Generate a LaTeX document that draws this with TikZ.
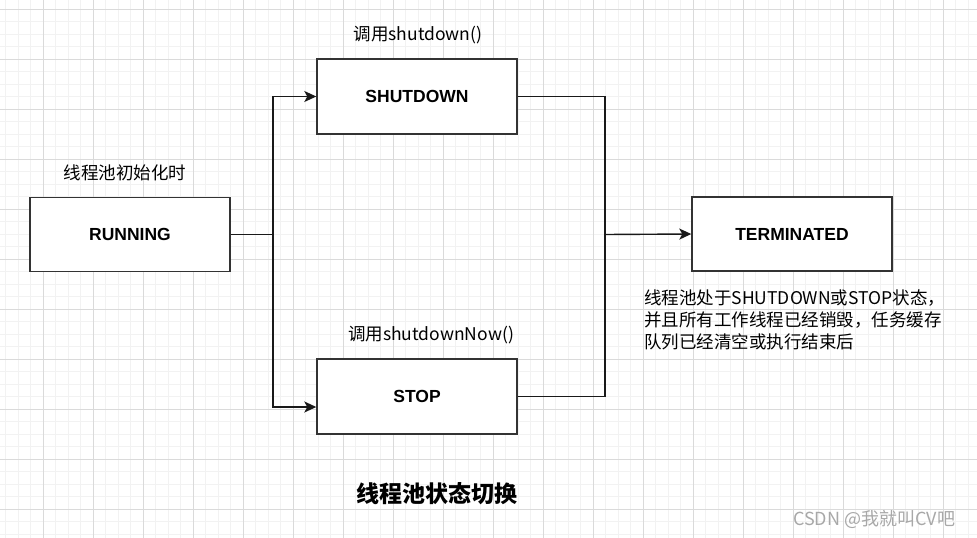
\documentclass[tikz,border=0pt]{standalone}
\usepackage{fontspec}
\setmainfont{Liberation Sans}
\newfontfamily\cjk{Noto Sans CJK SC}
\usetikzlibrary{positioning, arrows.meta}

\definecolor{gridminor}{HTML}{F2F2F2}
\definecolor{gridmajor}{HTML}{DADADA}
\definecolor{markgray}{HTML}{A8A8A8}

\begin{document}
\begin{tikzpicture}[
    x=1pt, y=-1pt,
    state/.style={rectangle, draw=black!80, line width=1.4pt, fill=white, minimum width=200pt, minimum height=74pt, inner sep=0pt, align=center, font=\fontsize{17.5}{21}\selectfont\bfseries},
    note/.style={inner sep=0pt, align=left, font=\cjk\fontsize{17.5}{22}\selectfont},
    line/.style={line width=1.4pt, black!90},
    arrow/.style={line, -{Stealth[length=12pt, width=11pt, inset=3pt]}}
  ]
    \useasboundingbox (0,0) rectangle (977,538);
    % background grid
    \fill[white] (0,0) rectangle (977,538);
    \begin{scope}
      \clip (0,0) rectangle (977,538);
      \foreach \gx in {-7, 5.5, ..., 980} \draw[gridminor, line width=0.8pt] (\gx,0) -- (\gx,538);
      \foreach \gy in {-3.5, 9, ..., 540} \draw[gridminor, line width=0.8pt] (0,\gy) -- (977,\gy);
      \foreach \gx in {43, 93, ..., 980} \draw[gridmajor, line width=0.8pt] (\gx,0) -- (\gx,538);
      \foreach \gy in {9, 59, ..., 540} \draw[gridmajor, line width=0.8pt] (0,\gy) -- (977,\gy);
    \end{scope}

    \node[state] (running) at (130,234.5) {RUNNING};
    \node[state, minimum height=75pt] (shutdown) at (417,96.5) {SHUTDOWN};
    \node[state, minimum height=75pt] (stop) at (417,396.5) {STOP};
    \node[state] (terminated) at (792,234) {TERMINATED};

    \coordinate (fork) at (273,234.5);
    \coordinate (join) at (605,234.5);

    \draw[line] (running.east) -- (fork);
    \draw[arrow] (fork) |- (shutdown.west);
    \draw[arrow] (fork) |- ([yshift=-10.5pt]stop.west);
    \draw[line] (shutdown.east) -| (join);
    \draw[line] (stop.east) -| (join);
    \draw[arrow] (join) -- (terminated.west);

    \node[note] (initnote) at (125,173) {线程池初始化时};
    \node[note] (shutnote) at (418,35) {调用shutdown()};
    \node[note] (stopnote) at (431,335) {调用shutdownNow()};
    \node[note, anchor=north west] (termnote) at (644,290) {线程池处于SHUTDOWN或STOP状态，\\并且所有工作线程已经销毁，任务缓存\\队列已经清空或执行结束后};
    \node[note, font=\cjk\bfseries\fontsize{23}{27}\selectfont] (title) at (437,494) {线程池状态切换};
    \node[note, text=markgray, font=\cjk\fontsize{18}{22}\selectfont] (mark) at (874,519) {CSDN @我就叫CV吧};
  \end{tikzpicture}
\end{document}
